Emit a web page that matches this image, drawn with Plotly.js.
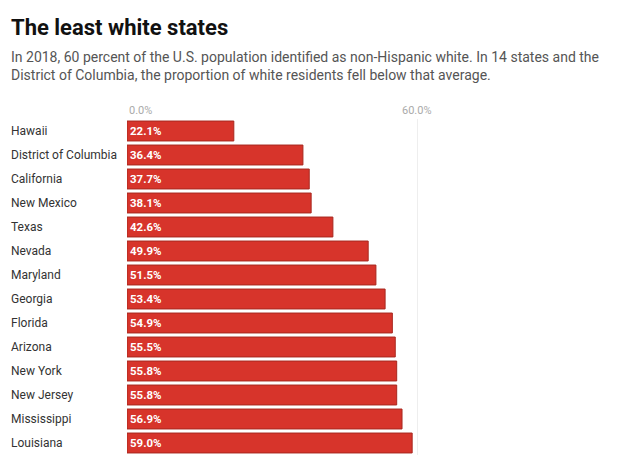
<!DOCTYPE html>
<html><head><meta charset="utf-8">
<script src="https://cdn.plot.ly/plotly-3.0.1.min.js"></script>
<style>html,body{margin:0;padding:0;background:#fff;}#chart{width:621px;height:460px;}</style>
</head><body><div id="chart"></div>
<script>
const states = ["Hawaii","District of Columbia","California","New Mexico","Texas","Nevada","Maryland","Georgia","Florida","Arizona","New York","New Jersey","Mississippi","Louisiana"];
const whiteShare = [22.1,36.4,37.7,38.1,42.6,49.9,51.5,53.4,54.9,55.5,55.8,55.8,56.9,59.0];
const tickVals = [0,60];
const tickText = ["0.0%","60.0%"];

const W = 621, H = 460;
const mL = 127, mR = 180, mT = 119, mB = 5;
const plotW = W - mL - mR;
const leftX = -(mL-9)/plotW;

const annotations = [];
states.forEach(s => annotations.push({
  xref:'paper', yref:'y', x: leftX, y: s, xanchor:'left', yanchor:'middle',
  text: s, showarrow:false, font:{family:'Roboto, sans-serif', size:12, color:'#333'}
}));
tickVals.forEach((v,i) => annotations.push({
  xref:'x', yref:'paper', x: v, y: 1, yshift: 9, xanchor: i===0 ? 'left' : 'center', yanchor:'middle',
  text: tickText[i], showarrow:false, font:{family:'Roboto, sans-serif', size:11, color:'#aaa'}
}));
annotations.push({xref:'paper', yref:'paper', x: leftX, y: 1, yshift: 92, xanchor:'left', yanchor:'middle',
  text:'<b>The least white states</b>', showarrow:false, font:{family:'Roboto, sans-serif', size:22, color:'#111'}});
annotations.push({xref:'paper', yref:'paper', x: leftX, y: 1, yshift: 53, xanchor:'left', yanchor:'middle', align:'left',
  text:'In 2018, 60 percent of the U.S. population identified as non-Hispanic white. In 14 states and the<br>District of Columbia, the proportion of white residents fell below that average.',
  showarrow:false, font:{family:'Roboto, sans-serif', size:14, color:'#555'}});

Plotly.newPlot('chart', [{
  type:'bar', orientation:'h', y: states, x: whiteShare,
  marker:{color:'#d7342b', line:{color:'#a8281f', width:1}},
  text: whiteShare.map(v => v.toFixed(1) + '%'),
  texttemplate:'<b>%{text}</b>', textposition:'inside', insidetextanchor:'start',
  textfont:{family:'Roboto, sans-serif', size:11.5, color:'#fff'},
  hoverinfo:'none', cliponaxis:false
}], {
  width: W, height: H, margin:{l:mL, r:mR, t:mT, b:mB},
  paper_bgcolor:'#fff', plot_bgcolor:'#fff', showlegend:false, bargap:0.17,
  xaxis:{range:[0, plotW/(290/60)], tickvals:tickVals, showticklabels:false, showgrid:true, gridcolor:'#eee', zeroline:false, fixedrange:true},
  yaxis:{type:'category', categoryarray: states, range:[13.5,-0.5], showticklabels:false, showgrid:false, zeroline:false, fixedrange:true},
  annotations: annotations,
  uniformtext:{mode:false}
}, {displayModeBar:false, staticPlot:true});
</script></body></html>
